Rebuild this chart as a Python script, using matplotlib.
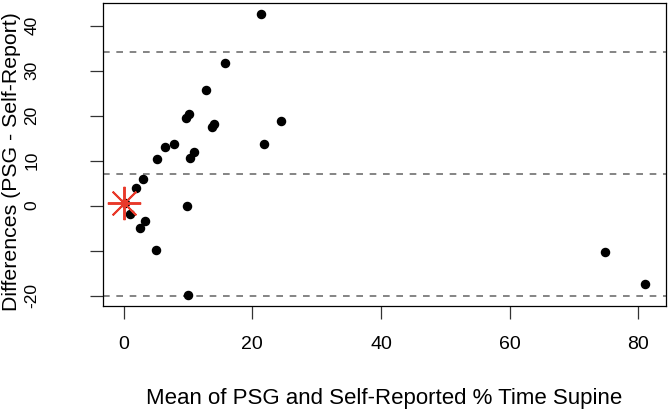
import matplotlib
matplotlib.use("Agg")
import matplotlib.pyplot as plt

plt.rcParams["font.family"] = ["Liberation Sans", "DejaVu Sans"]

# Bland-Altman style data: mean of the two measures vs. their difference
mean_supine = [21.3, 15.8, 12.8, 10.2, 9.7, 14.1, 13.7, 24.4, 21.9, 7.9,
               6.5, 5.2, 11.0, 10.3, 2.95, 2.0, 0.15, 1.0, 3.3, 2.5,
               9.9, 5.0, 10.0, 74.8, 81.1]
diff_supine = [42.6, 31.6, 25.8, 20.4, 19.5, 18.1, 17.4, 18.8, 13.8, 13.7,
               13.1, 10.3, 12.0, 10.6, 6.0, 4.0, 0.5, -1.9, -3.4, -5.0,
               0.0, -9.9, -19.8, -10.4, -17.5]

mean_diff = 7.06
upper_loa = 34.1
lower_loa = -20.0

star_x = [0.1]
star_y = [0.5]

W, H = 669, 415
fig = plt.figure(figsize=(W / 100, H / 100), dpi=100)
ax = fig.add_axes([0.1535, 0.2627, 0.8415, 0.7308])

ax.scatter(mean_supine, diff_supine, s=34, color="black", zorder=3)
ax.plot(star_x, star_y, linestyle="none", marker=(8, 2, 0), markersize=24,
        markeredgewidth=1.4, color="#e8392a", zorder=4)

for level in (upper_loa, mean_diff, lower_loa):
    ax.axhline(level, color="#707070", linewidth=1.2, dashes=(4, 4), zorder=2)

ax.set_xlim(-3.24, 84.24)
ax.set_ylim(-22.3, 45.1)
ax.set_xticks([0, 20, 40, 60, 80])
ax.set_yticks([-20, -10, 0, 10, 20, 30, 40])
ax.set_yticklabels(["-20", "", "0", "10", "20", "30", "40"], rotation=90,
                   va="center")

ax.tick_params(length=9.5, width=0.9, color="#333333")
ax.tick_params(axis="x", labelsize=14, pad=12)
ax.tick_params(axis="y", labelsize=12.5, pad=36)
for side in ax.spines.values():
    side.set_linewidth(0.9)

fig.text(384 / W, 1 - 398 / H, "Mean of PSG and Self-Reported % Time Supine",
         fontsize=16, ha="center", va="center")
fig.text(12 / W, 1 - 162 / H, "Differences (PSG - Self-Report)",
         fontsize=15.3, ha="center", va="center", rotation=90)

plt.savefig("out.png", dpi=100)
